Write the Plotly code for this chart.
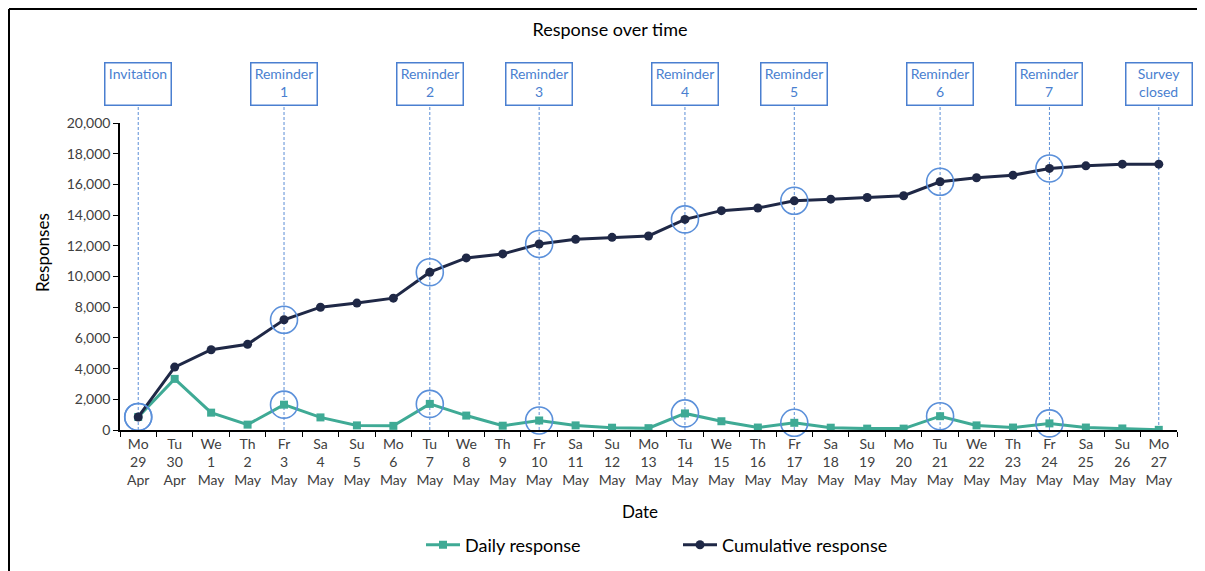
import plotly.graph_objects as go

days = ["Mo<br>29<br>Apr", "Tu<br>30<br>Apr", "We<br>1<br>May", "Th<br>2<br>May", "Fr<br>3<br>May",
        "Sa<br>4<br>May", "Su<br>5<br>May", "Mo<br>6<br>May", "Tu<br>7<br>May", "We<br>8<br>May",
        "Th<br>9<br>May", "Fr<br>10<br>May", "Sa<br>11<br>May", "Su<br>12<br>May", "Mo<br>13<br>May",
        "Tu<br>14<br>May", "We<br>15<br>May", "Th<br>16<br>May", "Fr<br>17<br>May", "Sa<br>18<br>May",
        "Su<br>19<br>May", "Mo<br>20<br>May", "Tu<br>21<br>May", "We<br>22<br>May", "Th<br>23<br>May",
        "Fr<br>24<br>May", "Sa<br>25<br>May", "Su<br>26<br>May", "Mo<br>27<br>May"]

daily = [850, 3330, 1130, 350, 1650, 820, 300, 270, 1700, 940, 280, 620, 300, 150, 120,
         1080, 570, 160, 470, 150, 90, 90, 900, 300, 160, 430, 160, 100, 10]

cumulative = [850, 4100, 5230, 5580, 7180, 8000, 8270, 8590, 10280, 11210, 11470, 12120, 12420,
              12550, 12640, 13720, 14290, 14460, 14930, 15040, 15150, 15260, 16170, 16430, 16600,
              17040, 17210, 17320, 17320]

event_idx = [0, 4, 8, 11, 15, 18, 22, 25, 28]
event_labels = ["Invitation", "Reminder<br>1", "Reminder<br>2", "Reminder<br>3", "Reminder<br>4",
                "Reminder<br>5", "Reminder<br>6", "Reminder<br>7", "Survey<br>closed"]
highlight_idx = [0, 4, 8, 11, 15, 18, 22, 25]

TEAL = "#3FAA95"
NAVY = "#1F2846"
BLUE = "#4A7FD0"
DASH = "#5B8ED6"
CIRCLE = "#5B90DA"
FONT = "Lato"

# page offset (default body margin of the html page)
OFF = 8
W, H = 1205, 571
# plot area in page pixels: x 120..1177, y 123..430
L, T = 120 - OFF, 123 - OFF
R, B = W - (1177 - OFF), H - (430 - OFF)
PW, PH = W - L - R, H - T - B

def px_x(p):
    return (p - OFF - L) / PW

def px_y(p):
    return (H - B - (p - OFF)) / PH

fig = go.Figure()

fig.add_trace(go.Scatter(
    x=days, y=daily, name="Daily response", mode="lines+markers",
    line=dict(color=TEAL, width=3), marker=dict(symbol="square", size=8, color=TEAL)))
fig.add_trace(go.Scatter(
    x=days, y=cumulative, name="Cumulative response", mode="lines+markers",
    line=dict(color=NAVY, width=3), marker=dict(symbol="circle", size=9, color=NAVY)))

for series in (daily, cumulative):
    fig.add_trace(go.Scatter(
        x=[days[i] for i in highlight_idx], y=[series[i] for i in highlight_idx],
        mode="markers", showlegend=False, hoverinfo="skip", cliponaxis=False,
        marker=dict(symbol="circle-open", size=27, color=CIRCLE, line=dict(width=1.6, color=CIRCLE))))

shapes = []
annotations = []
for i, lab in zip(event_idx, event_labels):
    shapes.append(dict(type="line", xref="x", yref="paper", x0=days[i], x1=days[i],
                       y0=0, y1=px_y(105), line=dict(color=DASH, width=1, dash="3px,2px"), layer="below"))
    annotations.append(dict(x=days[i], xref="x", yref="paper", y=px_y(84), yanchor="middle",
                            xanchor="center",
                            text=lab, showarrow=False, width=62, height=38, valign="top",
                            bordercolor=BLUE, borderwidth=1.5, borderpad=1.5, bgcolor="white",
                            font=dict(family=FONT, size=14, color=BLUE)))

# outer frame (only top and left edges are visible in the reference)
shapes.append(dict(type="line", xref="paper", yref="paper",
                   x0=px_x(9), x1=px_x(1215), y0=px_y(9), y1=px_y(9),
                   line=dict(color="black", width=2), layer="below"))
shapes.append(dict(type="line", xref="paper", yref="paper",
                   x0=px_x(9), x1=px_x(9), y0=px_y(9), y1=px_y(580),
                   line=dict(color="black", width=2), layer="below"))

annotations.append(dict(xref="paper", yref="paper", x=px_x(42), y=px_y(253), xanchor="center",
                        yanchor="middle", text="Responses",
                        textangle=-90, showarrow=False, font=dict(family=FONT, size=17, color="black")))
annotations.append(dict(xref="paper", yref="paper", x=px_x(640), y=px_y(511), xanchor="center",
                        yanchor="middle", text="Date",
                        showarrow=False, font=dict(family=FONT, size=17, color="black")))

fig.update_layout(
    width=W, height=H,
    margin=dict(l=L, r=R, t=T, b=B, autoexpand=False),
    paper_bgcolor="white", plot_bgcolor="white",
    font=dict(family=FONT, size=14, color="#404040"),
    title=dict(text="Response over time", x=(610 - OFF) / W, xanchor="center",
               y=1 - (30 - OFF) / H, yanchor="middle",
               font=dict(family=FONT, size=18, color="black")),
    showlegend=True,
    legend=dict(orientation="h", x=px_x(421), xanchor="left", y=px_y(545), yanchor="middle",
                font=dict(family=FONT, size=18, color="black"), itemwidth=34,
                entrywidth=208, entrywidthmode="pixels"),
    shapes=shapes, annotations=annotations,
)

fig.update_xaxes(type="category", range=[-0.5, 28.5], autorange=False, automargin=False,
                 tickson="boundaries", ticks="outside", ticklen=5, tickcolor="black",
                 showline=True, linecolor="black", linewidth=1.5, showgrid=False, zeroline=False,
                 tickfont=dict(family=FONT, size=14, color="#404040"), tickangle=0)
fig.update_yaxes(range=[0, 20000], autorange=False, automargin=False, dtick=2000, tickformat=",d",
                 ticks="outside", ticklen=5,
                 tickcolor="black", showline=True, linecolor="black", linewidth=1.5, showgrid=False,
                 zeroline=False, tickfont=dict(family=FONT, size=14, color="#404040"))

fig.write_html("out.html")
